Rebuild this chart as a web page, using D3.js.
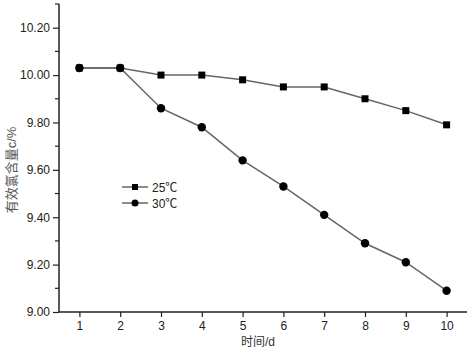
<!DOCTYPE html>
<html>
<head>
<meta charset="utf-8">
<script src="https://cdn.jsdelivr.net/npm/d3@7"></script>
<style>
  body { margin: 0; background: #fff; }
  text { font-family: "Liberation Sans", Arial, "Noto Sans CJK SC", sans-serif; }
</style>
</head>
<body>
<div class="container"></div>
<script>
var days = [1, 2, 3, 4, 5, 6, 7, 8, 9, 10];
var temp25 = [10.03, 10.03, 10.00, 10.00, 9.98, 9.95, 9.95, 9.90, 9.85, 9.79];
var temp30 = [10.03, 10.03, 9.86, 9.78, 9.64, 9.53, 9.41, 9.29, 9.21, 9.09];
var yTicks = [9.0, 9.2, 9.4, 9.6, 9.8, 10.0, 10.2];
var seriesNames = ["25\u2103", "30\u2103"];

const WIDTH = 472;
const HEIGHT = 352;

var translate = function(x, y){
  return "translate(" + x + "," + y + ")";
};

var _xScale = d3.scaleLinear().domain([0.5, 10.5]).range([59, 467]);
var _yScale = d3.scaleLinear().domain([9.0, 10.3]).range([312, 4]);

var svg = d3.select('.container').append('svg')
  .attr('width', WIDTH)
  .attr('height', HEIGHT);

// minor y ticks
var minor = d3.range(9.1, 10.3, 0.2);
svg.append('g').selectAll('line').data(minor).enter().append('line')
  .attr('x1', 55).attr('x2', 59)
  .attr('y1', function(d){ return _yScale(d); })
  .attr('y2', function(d){ return _yScale(d); })
  .attr('stroke', '#222').attr('stroke-width', 1.2);

var _xAxis = d3.axisBottom(_xScale).tickValues(days).tickSize(5).tickPadding(4);
var _yAxis = d3.axisLeft(_yScale).tickValues(yTicks).tickSize(6).tickPadding(3)
  .tickFormat(d3.format('.2f'));

var gx = svg.append('g').attr('transform', translate(0, 312)).call(_xAxis);
var gy = svg.append('g').attr('transform', translate(59, 0)).call(_yAxis);

[gx, gy].forEach(function(g){
  g.select('.domain').attr('stroke', '#222').attr('stroke-width', 1.5);
  g.selectAll('.tick line').attr('stroke', '#222').attr('stroke-width', 1.2);
  g.selectAll('text').attr('font-size', 12).attr('fill', '#222')
    .attr('font-family', '"Liberation Sans", Arial, sans-serif');
});
gx.select('.domain').attr('d', 'M59,0H467');
gy.select('.domain').attr('d', 'M0,312V4');

svg.append('text')
  .attr('x', 258).attr('y', 346)
  .attr('text-anchor', 'middle')
  .attr('font-size', 12).attr('fill', '#333')
  .text('时间/d');

svg.append('text')
  .attr('transform', translate(16, 170) + ' rotate(-90)')
  .attr('text-anchor', 'middle')
  .attr('font-size', 13).attr('fill', '#555')
  .text('有效氯含量c/%');

var line = d3.line()
  .x(function(d, i){ return _xScale(days[i]); })
  .y(function(d){ return _yScale(d); });

[temp25, temp30].forEach(function(s){
  svg.append('path').datum(s)
    .attr('d', line)
    .attr('fill', 'none')
    .attr('stroke', '#666')
    .attr('stroke-width', 1.5);
});

svg.append('g').selectAll('rect').data(temp25).enter().append('rect')
  .attr('x', function(d, i){ return _xScale(days[i]) - 3.5; })
  .attr('y', function(d){ return _yScale(d) - 3.5; })
  .attr('width', 7).attr('height', 7)
  .attr('fill', '#000');

svg.append('g').selectAll('circle').data(temp30).enter().append('circle')
  .attr('cx', function(d, i){ return _xScale(days[i]); })
  .attr('cy', function(d){ return _yScale(d); })
  .attr('r', 4.2)
  .attr('fill', '#000');

// legend
var legend = svg.append('g').attr('transform', translate(122, 187));
seriesNames.forEach(function(name, i){
  var row = legend.append('g').attr('transform', translate(0, i * 16));
  row.append('line').attr('x1', 0).attr('x2', 26).attr('y1', 0).attr('y2', 0)
    .attr('stroke', '#666').attr('stroke-width', 1.5);
  if (i === 0) {
    row.append('rect').attr('x', 10).attr('y', -3).attr('width', 6).attr('height', 6).attr('fill', '#000');
  } else {
    row.append('circle').attr('cx', 13).attr('cy', 0).attr('r', 3.5).attr('fill', '#000');
  }
  row.append('text').attr('x', 30).attr('y', 4.5)
    .attr('font-size', 12).attr('fill', '#222')
    .text(name);
});
</script>
</body>
</html>
